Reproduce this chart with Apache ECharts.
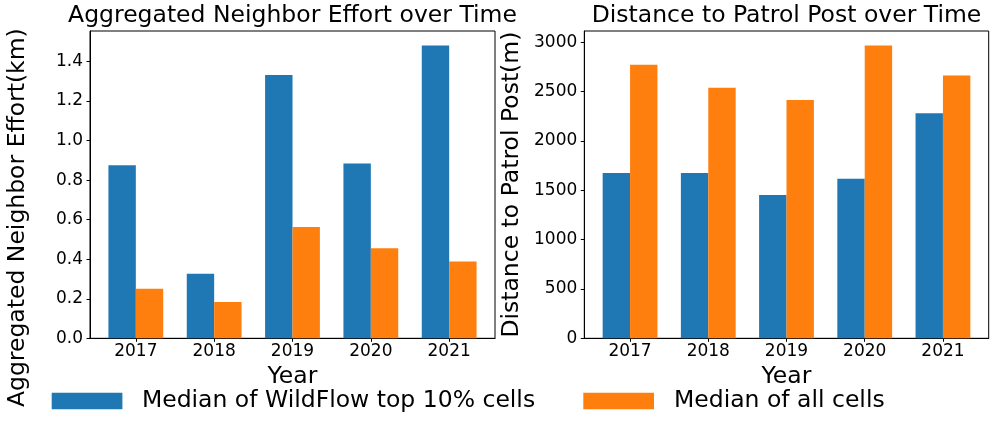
<!DOCTYPE html>
<html>
<head>
<meta charset="utf-8">
<script src="https://cdn.jsdelivr.net/npm/echarts@6/dist/echarts.min.js"></script>
<style>
html,body{margin:0;padding:0;background:#fff;}
#chart{width:996px;height:431px;}
</style>
</head>
<body>
<div id="chart"></div>
<script>
const years = ['2017', '2018', '2019', '2020', '2021'];
const effortTop = [0.875, 0.327, 1.331, 0.884, 1.481];
const effortAll = [0.251, 0.184, 0.563, 0.455, 0.388];
const distTop = [1675, 1675, 1452, 1618, 2280];
const distAll = [2773, 2540, 2415, 2966, 2662];
const effortTicks = [0, 0.2, 0.4, 0.6, 0.8, 1.0, 1.2, 1.4];
const distTicks = [0, 500, 1000, 1500, 2000, 2500, 3000];
const seriesNames = ['Median of WildFlow top 10% cells', 'Median of all cells'];
const colors = ['#1f77b4', '#ff7f0e'];

const FONT = 'DejaVu Sans';
const catIdx = years.map((_, i) => i);
const toPts = arr => arr.map((v, i) => [i, v]);

function xAxis(gi) {
  return {
    type: 'value', gridIndex: gi, min: -0.585, max: 4.585,
    name: 'Year', nameLocation: 'middle', nameGap: 25,
    nameTextStyle: {fontFamily: FONT, fontSize: 23.5, color: '#000'},
    axisLine: {show: true, onZero: false, lineStyle: {color: '#000', width: 1}},
    axisTick: {show: true, length: 3.5, customValues: catIdx, lineStyle: {color: '#000'}},
    axisLabel: {customValues: catIdx, formatter: v => years[Math.round(v)], fontFamily: FONT, fontSize: 17, color: '#000', margin: 5},
    splitLine: {show: false}
  };
}
function yAxis(gi, max, ticks, name, fmt, pad) {
  return {
    type: 'value', gridIndex: gi, min: 0, max: max,
    name: name, nameLocation: 'middle', nameGap: 60,
    nameTextStyle: {fontFamily: FONT, fontSize: 23.5, color: '#000', padding: pad},
    axisLine: {show: true, onZero: false, lineStyle: {color: '#000', width: 1}},
    axisTick: {show: true, length: 3.5, customValues: ticks, lineStyle: {color: '#000'}},
    axisLabel: {customValues: ticks, formatter: fmt, fontFamily: FONT, fontSize: 17, color: '#000', margin: 7},
    splitLine: {show: false}
  };
}
function bar(name, data, xi, color) {
  return {
    type: 'bar', name: name, xAxisIndex: xi, yAxisIndex: xi,
    data: data, barWidth: 27.4, barGap: '0%',
    itemStyle: {color: color}, animation: false
  };
}

const chart = echarts.init(document.getElementById('chart'));
chart.setOption({
  animation: false,
  textStyle: {fontFamily: FONT},
  title: [
    {text: 'Aggregated Neighbor Effort over Time', left: 292.5, textAlign: 'center', top: 3.5, padding: 0,
     textStyle: {fontFamily: FONT, fontSize: 23.5, fontWeight: 'normal', color: '#000'}},
    {text: 'Distance to Patrol Post over Time', left: 786.5, textAlign: 'center', top: 3.5, padding: 0,
     textStyle: {fontFamily: FONT, fontSize: 23.5, fontWeight: 'normal', color: '#000'}}
  ],
  grid: [
    {left: 90, top: 31, width: 405, height: 307.3, show: true, borderColor: '#000', borderWidth: 1, backgroundColor: 'transparent'},
    {left: 584.3, top: 31, width: 404.4, height: 307.3, show: true, borderColor: '#000', borderWidth: 1, backgroundColor: 'transparent'}
  ],
  legend: [
    {data: [seriesNames[0]], left: 51.7, top: 389, padding: 0, itemWidth: 70.7, itemHeight: 16.7, icon: 'rect',
     textStyle: {fontFamily: FONT, fontSize: 23.5, color: '#000', padding: [0, 0, 0, 14.5]}},
    {data: [seriesNames[1]], left: 583.3, top: 389, padding: 0, itemWidth: 70.7, itemHeight: 16.7, icon: 'rect',
     textStyle: {fontFamily: FONT, fontSize: 23.5, color: '#000', padding: [0, 0, 0, 15]}}
  ],
  xAxis: [xAxis(0), xAxis(1)],
  yAxis: [
    yAxis(0, 1.554, effortTicks, 'Aggregated Neighbor Effort(km)', v => v.toFixed(1), [0, 66, 0, 0]),
    yAxis(1, 3114, distTicks, 'Distance to Patrol Post(m)', v => String(v), 0)
  ],
  series: [
    bar(seriesNames[0], toPts(effortTop), 0, colors[0]),
    bar(seriesNames[1], toPts(effortAll), 0, colors[1]),
    bar(seriesNames[0], toPts(distTop), 1, colors[0]),
    bar(seriesNames[1], toPts(distAll), 1, colors[1])
  ]
});
</script>
</body>
</html>
